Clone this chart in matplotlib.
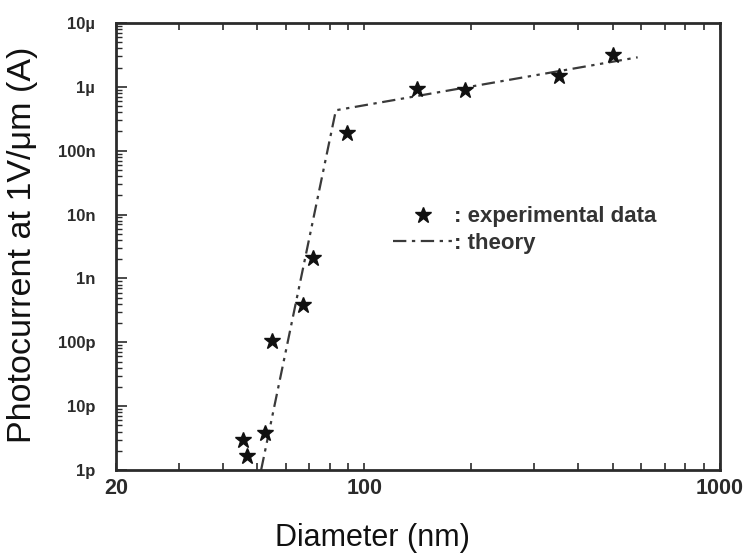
#!/usr/bin/env python3
"""Photocurrent vs nanowire diameter, experiment and theory (log-log)."""

import matplotlib
matplotlib.use("Agg")
import matplotlib.pyplot as plt
from matplotlib.ticker import FixedLocator, NullFormatter
from matplotlib.lines import Line2D

# experimental points (nm, A)
exp_diameter = [45.5, 46.7, 52.5, 54.9, 67.2, 71.6, 89.3, 140.6, 191.8, 352, 500]
exp_current = [3.0e-12, 1.66e-12, 3.8e-12, 1.05e-10, 3.8e-10, 2.1e-9,
               1.9e-7, 9.2e-7, 8.8e-7, 1.5e-6, 3.1e-6]

# theory curve: two straight segments in log-log
theory_diameter = [51.2, 83.1, 587]
theory_current = [1.0e-12, 4.3e-7, 2.9e-6]

x_major = [20, 100, 1000]
x_major_labels = ["20", "100", "1000"]
y_major = [1e-12, 1e-11, 1e-10, 1e-9, 1e-8, 1e-7, 1e-6, 1e-5]
y_major_labels = ["1p", "10p", "100p", "1n", "10n", "100n", "1µ", "10µ"]

INK = "#2b2b2b"
DASH = (0, (6, 2.5, 1.5, 2.5, 6, 2.5, 1.5, 2.5, 1.5, 2.5))

fig = plt.figure(figsize=(7.46, 5.58), dpi=100)
ax = fig.add_axes([0.1555, 0.1577, 0.8095, 0.8011])

ax.plot(theory_diameter, theory_current, color="#3a3a3a", linewidth=1.6,
        linestyle=DASH, zorder=2)
ax.plot(exp_diameter, exp_current, linestyle="none", marker="*",
        markersize=12, color="#111111", zorder=3)

ax.set_xscale("log")
ax.set_yscale("log")
ax.set_xlim(20, 1000)
ax.set_ylim(1e-12, 1e-5)

x_font = {"family": ["Liberation Sans", "DejaVu Sans"], "weight": "bold", "size": 15.5}
y_font = {"family": ["Liberation Sans Narrow", "Liberation Sans"],
          "weight": "bold", "size": 12}

ax.xaxis.set_major_locator(FixedLocator(x_major))
ax.set_xticklabels(x_major_labels, fontdict=x_font, color=INK)
x_minor = [v * d for d in (10, 100) for v in range(2, 10) if 20 < v * d < 1000]
ax.xaxis.set_minor_locator(FixedLocator(x_minor))
ax.xaxis.set_minor_formatter(NullFormatter())

ax.yaxis.set_major_locator(FixedLocator(y_major))
ax.set_yticklabels(y_major_labels, fontdict=y_font, color=INK)
y_minor = [v * 10.0 ** e for e in range(-12, -5) for v in range(2, 10)]
ax.yaxis.set_minor_locator(FixedLocator(y_minor))
ax.yaxis.set_minor_formatter(NullFormatter())

ax.tick_params(axis="x", which="both", direction="in", top=True, bottom=True,
               length=5, width=1.2, color=INK, pad=6)
ax.tick_params(axis="y", which="major", direction="in", left=True, right=False,
               length=8, width=1.2, color=INK, pad=15)
ax.tick_params(axis="y", which="minor", direction="in", left=True, right=False,
               length=4, width=1.0, color=INK)

for sp in ax.spines.values():
    sp.set_linewidth(2)
    sp.set_color(INK)

fig.text(0.499, 0.022, "Diameter (nm)", ha="center", va="baseline",
         fontdict={"family": ["Liberation Sans", "DejaVu Sans"], "size": 22},
         color="#111111")
fig.text(0.03, 0.562, "Photocurrent at 1V/μm (A)", ha="center", va="center",
         rotation=90, fontdict={"family": ["Liberation Sans", "DejaVu Sans"],
                                "size": 24.5}, color="#111111")

handles = [
    Line2D([], [], linestyle="none", marker="*", markersize=12, color="#111111"),
    Line2D([], [], color="#3a3a3a", linewidth=1.6, linestyle=DASH),
]
ax.legend(handles, [": experimental data", ": theory"],
          loc="upper left", bbox_to_anchor=(0.512, 0.65),
          bbox_transform=fig.transFigure, frameon=False, borderpad=0,
          handlelength=2.7, handletextpad=0.05, labelspacing=0.25,
          prop={"family": ["Liberation Sans", "DejaVu Sans"],
                "weight": "bold", "size": 16},
          labelcolor="#333333")

fig.savefig("out.png", dpi=100)
